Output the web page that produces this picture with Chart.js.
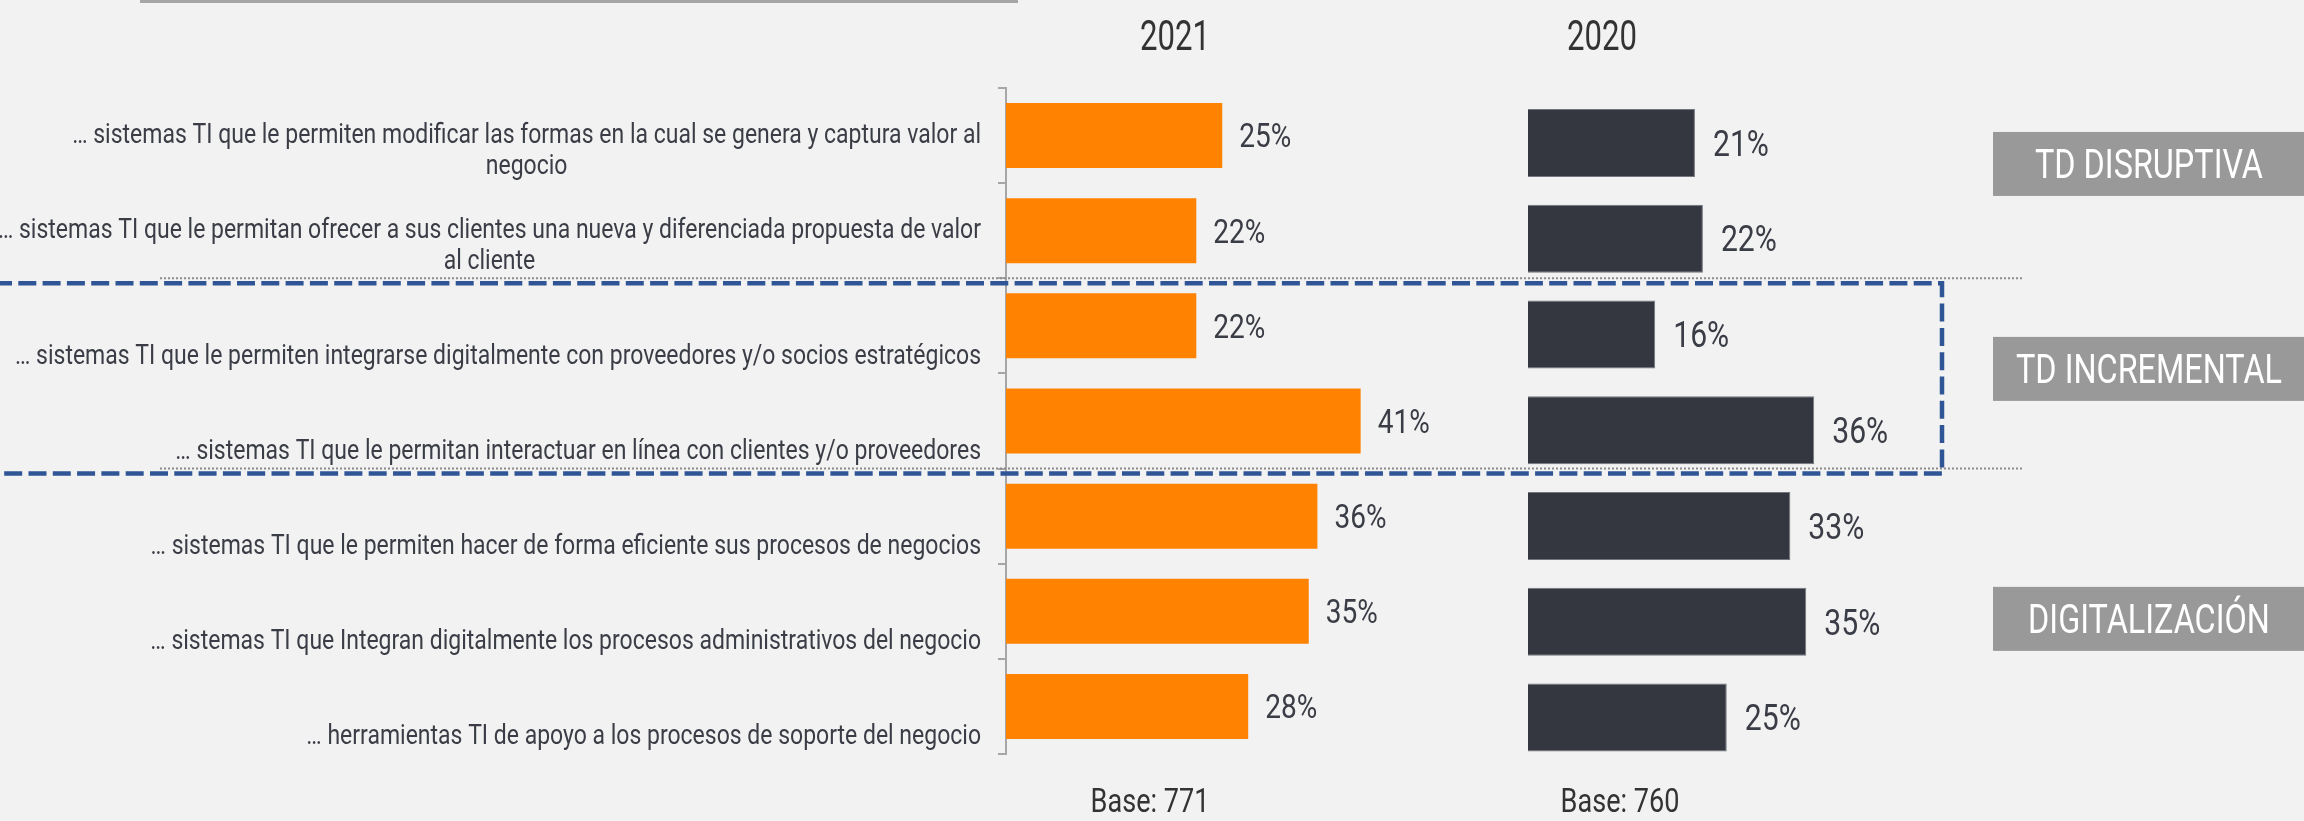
<!DOCTYPE html>
<html lang="es">
<head>
<meta charset="utf-8">
<title>Sistemas TI 2021 vs 2020</title>
<script src="https://cdn.jsdelivr.net/npm/chart.js@4.4.1/dist/chart.umd.min.js"></script>
<style>
  html, body { margin: 0; padding: 0; background: #F2F2F2; }
  #wrap { position: relative; width: 2304px; height: 821px; overflow: hidden; }
  #wrap canvas { position: absolute; left: 0; top: 0; }
</style>
</head>
<body>
<div id="wrap">
  <canvas id="c2021" width="2304" height="821"></canvas>
  <canvas id="c2020" width="2304" height="821"></canvas>
</div>
<script>
// data
const categories = [
  ['… sistemas TI que le permiten modificar las formas en la cual se genera y captura valor al', 'negocio'],
  ['… sistemas TI que le permitan ofrecer a sus clientes una nueva y diferenciada propuesta de valor', 'al cliente'],
  ['… sistemas TI que le permiten integrarse digitalmente con proveedores y/o socios estratégicos'],
  ['… sistemas TI que le permitan interactuar en línea con clientes y/o proveedores'],
  ['… sistemas TI que le permiten hacer de forma eficiente sus procesos de negocios'],
  ['… sistemas TI que Integran digitalmente los procesos administrativos del negocio'],
  ['… herramientas TI de apoyo a los procesos de soporte del negocio']
];
const values2021 = [25, 22, 22, 41, 36, 35, 28];
const values2020 = [21, 22, 16, 36, 33, 35, 25];
const yearTitles = ['2021', '2020'];
const baseLabels = ['Base: 771', 'Base: 760'];
const groupNames = ['TD DISRUPTIVA', 'TD INCREMENTAL', 'DIGITALIZACIÓN'];
const groupAt = [0.22, 2.36, 4.97];   // where each group box sits, in category units
const sectionBreaks = [1.5, 3.5];     // dotted separators between groups

// condensed look: Roboto squeezed sideways to the widths seen in the picture
const FONT = 'Roboto, "Liberation Sans", sans-serif';
const TEXT = '#3B3D46';
const ORANGE = '#FF8200';
const DARK = '#343740';

function fitScale(ctx, font, text, target) {
  ctx.save();
  ctx.font = font;
  const w = ctx.measureText(text).width;
  ctx.restore();
  return target / w;
}

function drawScaled(ctx, text, x, y, font, sx, align, color) {
  ctx.save();
  ctx.font = font;
  ctx.fillStyle = color;
  ctx.textAlign = align;
  ctx.textBaseline = 'alphabetic';
  ctx.translate(x, y);
  ctx.scale(sx, 1);
  ctx.fillText(text, 0, 0);
  ctx.restore();
}

function drawValueLabels(chart, size, targetW, gap) {
  const ctx = chart.ctx;
  const font = size + 'px ' + FONT;
  const sx = fitScale(ctx, font, '25%', targetW);
  const data = chart.data.datasets[0].data;
  chart.getDatasetMeta(0).data.forEach((bar, i) => {
    drawScaled(ctx, data[i] + '%', bar.x + gap, bar.y + size * 0.35, font, sx, 'left', TEXT);
  });
}

const plugin2021 = {
  id: 'deco2021',
  afterDraw(chart) {
    const ctx = chart.ctx;
    const y = chart.scales.y;
    const left = chart.chartArea.left;

    // top rule
    ctx.fillStyle = '#A6A6A6';
    ctx.fillRect(140, 0, 878, 3);

    // category labels, bottom aligned in their band
    const catFont = '27px ' + FONT;
    const sxCat = fitScale(ctx, catFont, categories[2][0], 966);
    ctx.font = catFont;
    categories.forEach((lines, i) => {
      const c = y.getPixelForValue(i);
      const widest = Math.max(...lines.map(l => ctx.measureText(l).width)) * sxCat;
      const cx = left - 25 - widest / 2;
      lines.forEach((l, k) => {
        const base = c + 38 - (lines.length - 1 - k) * 31;
        drawScaled(ctx, l, cx, base, catFont, sxCat, 'center', TEXT);
      });
    });

    drawValueLabels(chart, 34, 52, 17);

    // dotted separators
    ctx.save();
    ctx.strokeStyle = '#8C8C8C';
    ctx.lineWidth = 2;
    ctx.setLineDash([2, 2]);
    sectionBreaks.forEach(v => {
      const py = y.getPixelForValue(v);
      ctx.beginPath();
      ctx.moveTo(160, py);
      ctx.lineTo(2023, py);
      ctx.stroke();
    });
    ctx.restore();

    // dashed frame round the incremental group
    const top = y.getPixelForValue(sectionBreaks[0]) + 5;
    const bottom = y.getPixelForValue(sectionBreaks[1]) + 5;
    ctx.save();
    ctx.strokeStyle = '#2F5597';
    ctx.lineWidth = 4.5;
    ctx.setLineDash([18, 6.3]);
    ctx.beginPath();
    ctx.moveTo(-6, top);
    ctx.lineTo(1942, top);
    ctx.lineTo(1942, bottom);
    ctx.lineTo(-6, bottom);
    ctx.stroke();
    ctx.restore();

    const tFont = '42px ' + FONT;
    drawScaled(ctx, yearTitles[0], 1175, 50, tFont, fitScale(ctx, tFont, '2021', 70), 'center', '#333333');
    const bFont = '34px ' + FONT;
    drawScaled(ctx, baseLabels[0], 1150, 812, bFont, fitScale(ctx, bFont, 'Base: 771', 119), 'center', '#333333');
  }
};

const plugin2020 = {
  id: 'deco2020',
  afterDraw(chart) {
    const ctx = chart.ctx;
    const y = chart.scales.y;

    drawValueLabels(chart, 36.5, 56, 18);

    // group boxes on the right
    const gFont = '40px ' + FONT;
    const sxG = fitScale(ctx, gFont, 'TD DISRUPTIVA', 228);
    groupNames.forEach((name, i) => {
      const cy = y.getPixelForValue(groupAt[i]);
      ctx.fillStyle = '#999999';
      ctx.fillRect(1993, cy - 32, 320, 64);
      drawScaled(ctx, name, 2149, cy + 14.5, gFont, sxG, 'center', '#FFFFFF');
    });

    const tFont = '42px ' + FONT;
    drawScaled(ctx, yearTitles[1], 1602, 50, tFont, fitScale(ctx, tFont, '2021', 70), 'center', '#333333');
    const bFont = '34px ' + FONT;
    drawScaled(ctx, baseLabels[1], 1620, 812, bFont, fitScale(ctx, bFont, 'Base: 771', 119), 'center', '#333333');
  }
};

new Chart(document.getElementById('c2021'), {
  type: 'bar',
  data: {
    labels: categories,
    datasets: [{
      data: values2021,
      backgroundColor: ORANGE,
      borderWidth: 0,
      barPercentage: 0.683,
      categoryPercentage: 1
    }]
  },
  options: {
    indexAxis: 'y',
    responsive: false,
    animation: false,
    layout: { padding: { left: 998, right: 865.5, top: 88, bottom: 67 } },
    plugins: { legend: { display: false }, tooltip: { enabled: false } },
    scales: {
      x: { display: false, min: 0, max: 50 },
      y: {
        ticks: { display: false },
        grid: { drawOnChartArea: false, drawTicks: true, tickLength: 8, color: '#A6A6A6', lineWidth: 2, offset: true },
        border: { display: true, color: '#A6A6A6', width: 2 }
      }
    }
  },
  plugins: [plugin2021]
});

new Chart(document.getElementById('c2020'), {
  type: 'bar',
  data: {
    labels: categories,
    datasets: [{
      data: values2020,
      backgroundColor: DARK,
      borderColor: '#74767D',
      borderWidth: 1,
      barPercentage: 0.71,
      categoryPercentage: 1
    }]
  },
  options: {
    indexAxis: 'y',
    responsive: false,
    animation: false,
    layout: { padding: { left: 1528, right: 378.5, top: 95, bottom: 55.6 } },
    plugins: { legend: { display: false }, tooltip: { enabled: false } },
    scales: {
      x: { display: false, min: 0, max: 50 },
      y: { display: false }
    }
  },
  plugins: [plugin2020]
});
</script>
</body>
</html>
